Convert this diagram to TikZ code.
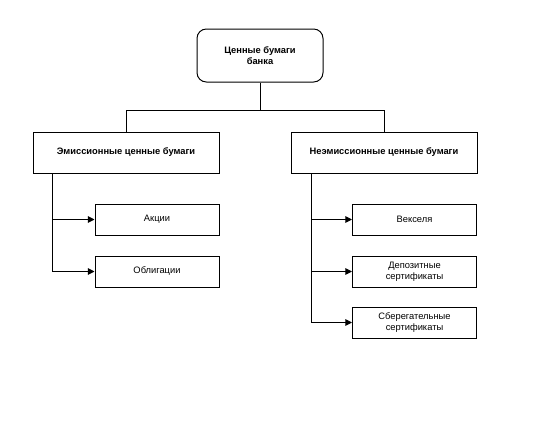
\documentclass[tikz,border=0pt]{standalone}
\usepackage{fontspec}
\setmainfont{Liberation Sans}
\usetikzlibrary{arrows.meta,positioning}
\tikzset{
  rootbox/.style={draw, rounded corners=7pt, line width=0.75pt, align=center,
    minimum width=94.5pt, minimum height=39.75pt, inner sep=1pt,
    font=\fontsize{7}{8.25}\selectfont\bfseries},
  groupbox/.style={draw, line width=0.75pt, align=center,
    minimum width=139.5pt, minimum height=30.75pt, inner sep=1pt,
    font=\fontsize{7}{8.25}\selectfont\bfseries},
  leafbox/.style={draw, line width=0.75pt, align=center,
    minimum width=93pt, minimum height=23.25pt, inner sep=1pt,
    font=\fontsize{7}{8.25}\selectfont},
  link/.style={line width=0.75pt},
  feed/.style={link, -{Triangle[length=5pt,width=5pt]}},
}
\begin{document}
\begin{tikzpicture}[x=0.75pt,y=-0.75pt]
  \useasboundingbox (0,0) rectangle (537,422);
  % root
  \node[rootbox] (root) at (260,55.5) {Ценные бумаги\\банка};
  % groups
  \node[groupbox] (emis) at (126,152.5) {Эмиссионные ценные бумаги};
  \node[groupbox] (neem) at (384,152.5) {Неэмиссионные ценные бумаги};
  % leaves
  \node[leafbox] (akc) at (157,219.5) {Акции};
  \node[leafbox] (obl) at (157,271.5) {Облигации};
  \node[leafbox] (veks) at (414.5,219.5) {Векселя};
  \node[leafbox] (dep) at (414.5,271.5) {Депозитные\\сертификаты};
  \node[leafbox] (sber) at (414.5,322.5) {Сберегательные\\сертификаты};
  % bus
  \coordinate (bus) at (260,110);
  \draw[link] (root.south) -- (bus);
  \draw[link] (bus) -| (emis.north);
  \draw[link] (bus) -| (neem.north);
  % spines
  \coordinate (lspine) at ([xshift=15pt]emis.south west);
  \coordinate (rspine) at ([xshift=15.75pt]neem.south west);
  \foreach \leaf in {akc,obl} {\draw[feed] (lspine) |- (\leaf.west);}
  \foreach \leaf in {veks,dep,sber} {\draw[feed] (rspine) |- (\leaf.west);}
\end{tikzpicture}
\end{document}
